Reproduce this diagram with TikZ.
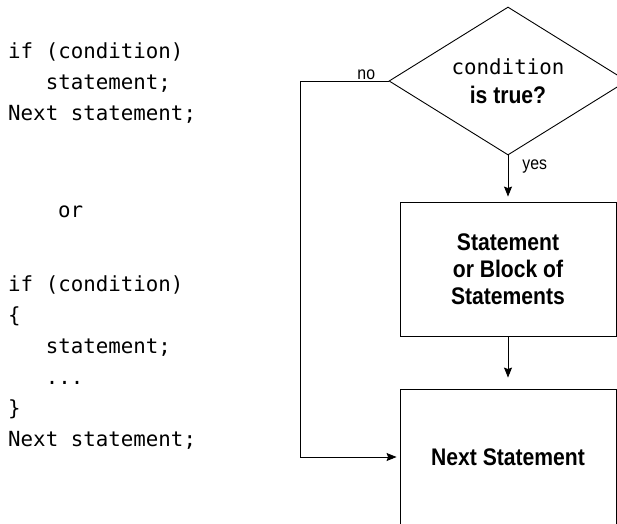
\documentclass[tikz,border=0pt]{standalone}
\usepackage{fontspec}
\setmonofont{DejaVu Sans Mono}
\newfontfamily\condsans{Liberation Sans}[FakeStretch=0.88]
\usetikzlibrary{shapes.geometric,arrows.meta,positioning}
\tikzset{
  code/.style={anchor=base west, inner sep=0pt, align=left, font=\ttfamily\fontsize{20.8}{31}\selectfont},
  decision/.style={diamond, draw, line width=0.9pt, aspect=1.6, minimum width=238pt, minimum height=148pt, inner sep=0pt, align=center, font=\condsans\fontsize{24}{29}\selectfont},
  process/.style={rectangle, draw, line width=0.9pt, minimum width=216pt, align=center, font=\condsans\bfseries\fontsize{24}{27}\selectfont},
  flow/.style={line width=0.9pt, -{Stealth[length=10pt,width=8pt,inset=1.5pt]}},
  tag/.style={font=\condsans\fontsize{18}{20}\selectfont, inner sep=0pt}
}
\begin{document}
\begin{tikzpicture}[x=1pt, y=-1pt, node distance=188pt]
\useasboundingbox (0,0) rectangle (617,523);
% code on the left
\node[code] (short) at (8,120) {if (condition)\\\phantom{xxx}statement;\\Next statement;};
\node[code] (orword) at (58,217) {or};
\node[code] (long) at (8,446) {if (condition)\\\{\\\phantom{xxx}statement;\\\phantom{xxx}...\\\}\\Next statement;};
% flow chart
\node[decision] (cond) at (508,81) {{\ttfamily\fontsize{20.8}{29}\selectfont condition}\\{\bfseries is true?}};
\node[process, minimum height=134pt, below of=cond] (block) {Statement\\or Block of\\Statements};
\node[process, minimum height=136pt, below of=block] (next) {Next Statement};
\coordinate (bend) at (300,81);
\draw[flow, shorten >=5pt] (cond.south) -- node[tag, pos=0, anchor=north west, xshift=14pt, yshift=-4pt] {yes} (block.north);
\draw[flow, shorten >=11pt] (block.south) -- (next.north);
\draw[flow, shorten >=3pt] (cond.west) -- node[tag, pos=0, anchor=south east, xshift=-13pt, yshift=1pt] {no} (bend) |- (next.west);
\end{tikzpicture}
\end{document}
